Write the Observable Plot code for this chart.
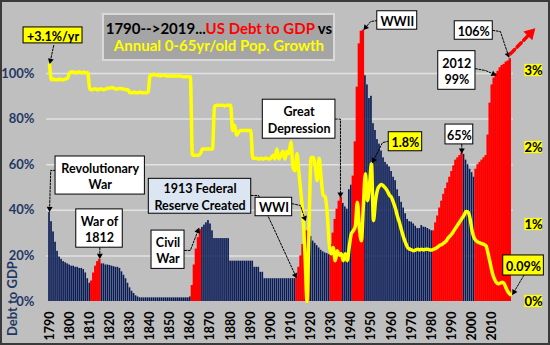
<!DOCTYPE html>
<html><head><meta charset="utf-8">
<script src="https://cdn.jsdelivr.net/npm/d3@7"></script>
<script src="https://cdn.jsdelivr.net/npm/@observablehq/plot@0.6"></script>
<style>
html,body{margin:0;padding:0;background:#bfbfbf;}
#chart svg{display:block;outline:2px solid #3a3a3a;outline-offset:-2px;}
</style></head><body><div id="chart"></div>
<script>
// ---- data ----
const years = d3.range(1790, 2020);
const debtToGdp = [
 39,35,30.5,26,22,19.5,18.5,17.5,17,16.5,
 16,15.5,15.5,15,15,14.5,14.5,14,12.5,10,
 8,9,12.5,15.5,17.5,18.5,16.5,16.5,16,16,
 15.8,15.5,15.3,15,15,14.5,13,11.5,10,8,
 6,4.5,3.5,2.5,2,1.6,1.6,1.6,1.6,1.6,
 1.6,1.6,1.6,1.6,1.6,1.6,1.6,1.6,1.6,1.6,
 1.6,1.6,1.6,1.6,1.6,1.6,1.6,1.6,1.6,1.6,
 2,7,16,23,28,31.5,32.5,33.5,34.5,35.5,
 34,31,27.6,27.6,27.6,27.6,27.6,27.6,27.6,27.6,
 17.7,17.7,17.7,17.7,17.7,17.7,17.7,17.7,17.7,17.7,
 17.7,17.7,15,15,15,12.8,12.8,10,10,10,
 10,10,10,10,10,10,10,10,10,10,
 10,10,10,11,15,20,25,29,31,30,
 28.5,26.5,25.5,24.5,23.5,22.5,21.8,21.3,21,20.5,
 25,30,36,40.5,44,45.7,43,41.5,40.5,49,
 51,55,70,94,113,118.5,119,99,95,89,
 90,78,75,71,69,66,63,61,60,59,
 57,54.5,53,49,46,43.5,41,38.5,36,35,
 34.8,34,33,32,32,33.3,32.6,32.5,32,31.5,
 31,31,34.5,37.5,41,44,47,49.5,52,54.5,
 57,59.5,62,63,64,65,64.5,62,60,58,
 56.5,54.5,58,60,61,62,63,64,73,87,
 95,98,100,101,102.5,103.5,104,105,105.5,106.5
];
const popGrowth = [
 3.08,2.88,2.89,2.88,2.88,2.89,2.88,2.88,2.89,2.9,
 2.97,2.98,2.98,2.97,2.98,2.98,2.97,2.98,2.97,2.97,
 2.76,2.75,2.76,2.76,2.75,2.76,2.76,2.75,2.76,2.77,
 2.77,2.78,2.77,2.76,2.76,2.77,2.76,2.76,2.75,2.75,
 2.71,2.71,2.72,2.71,2.71,2.72,2.71,2.71,2.71,2.72,
 2.94,2.94,2.95,2.94,2.94,2.93,2.94,2.94,2.93,2.93,
 2.93,2.93,2.93,2.93,2.93,2.93,2.92,2.92,2.92,2.92,
 2.92,1.9,1.9,1.9,1.9,1.92,1.98,1.98,1.98,1.98,
 1.98,1.98,2.53,2.55,2.55,2.55,2.55,2.54,2.55,2.55,
 2.55,2.22,2.29,2.16,2.2,2.22,2.22,2.22,2.22,2.22,
 2.22,1.86,1.86,1.86,1.85,1.86,1.85,1.86,1.86,1.85,
 1.86,1.9,1.85,1.98,1.85,1.9,1.95,1.85,1.95,1.92,
 2.07,1.74,1.7,1.92,1.66,1.4,1.1,0.6,0.0,1.0,
 1.87,1.87,1.77,1.57,1.86,1.6,1.38,1.36,1.15,0.75,
 0.62,0.7,0.53,0.66,0.6,0.62,0.53,0.62,0.53,0.72,
 0.88,0.92,0.98,1.29,0.95,0.79,1.25,1.66,1.31,1.5,
 1.79,1.05,1.3,1.45,1.5,1.52,1.5,1.47,1.43,1.38,
 1.35,1.28,1.2,1.1,1.02,0.92,0.83,0.76,0.7,0.68,
 0.67,0.66,0.67,0.68,0.67,0.68,0.67,0.68,0.68,0.67,
 0.67,0.68,0.69,0.71,0.73,0.74,0.76,0.78,0.82,0.85,
 0.88,0.92,0.96,1.0,1.04,1.08,1.12,1.17,1.16,1.08,
 0.92,0.83,0.79,0.77,0.76,0.75,0.74,0.72,0.62,0.5,
 0.38,0.3,0.25,0.23,0.24,0.25,0.23,0.17,0.12,0.09
];
const warSpans = [[1811,1815],[1861,1865],[1913,1919],[1930,1935],[1941,1946],[1981,1995],[2002,2019]];
const decadeTicks = d3.range(1790, 2011, 10);
const leftTicks = [0,20,40,60,80,100];
const rightTicks = [0,1,2,3];
const rightFactor = 33.77; // left-axis % per 1% of population growth
const titleLine1 = ["1790-->2019...", "US Debt to GDP", " vs"];
const titleLine2 = "Annual 0-65yr/old Pop. Growth";

// annotation boxes (data units: year, debt %)
const notes = [
 {lines:["+3.1%/yr"], x1:1777.1, x2:1806.4, y1:113.2, y2:120.2, fill:"#ffff00"},
 {lines:["Revolutionary","War"], x1:1793.0, x2:1837.4, y1:46.9, y2:63.6, fill:"#ffffff"},
 {lines:["War of","1812"], x1:1803.3, x2:1826.4, y1:23.6, y2:40.4, fill:"#ffffff"},
 {lines:["Civil","War"], x1:1840.7, x2:1857.1, y1:14.3, y2:31.1, fill:"#ffffff"},
 {lines:["1913 Federal","Reserve Created"], x1:1839.35, x2:1890.25, y1:38.5, y2:53.8, fill:"#dce6f2"},
 {lines:["WWI"], x1:1892.4, x2:1910.6, y1:37.4, y2:45.5, fill:"#ffffff"},
 {lines:["Great","Depression"], x1:1896.0, x2:1932.1, y1:71.4, y2:88.5, fill:"#ffffff"},
 {lines:["WWII"], x1:1952.9, x2:1972.75, y1:119.2, y2:127.3, fill:"#ffffff"},
 {lines:["106%"], x1:1991.4, x2:2010.3, y1:114.8, y2:122.9, fill:"#ffffff"},
 {lines:["2012","99%"], x1:1983.2, x2:2001.7, y1:92.85, y2:109.8, fill:"#ffffff"},
 {lines:["65%"], x1:1986.8, x2:2000.6, y1:68.9, y2:77.6, fill:"#ffffff"},
 {lines:["1.8%"], x1:1958.6, x2:1975.2, y1:65.9, y2:74.25, fill:"#ffff00"},
 {lines:["0.09%"], x1:2015.5, x2:2035.7, y1:11.4, y2:20.2, fill:"#ffff00"}
];
const pointers = [
 {id:"p31", pts:[[1792.1,112.3],[1790.2,104.6]]},
 {id:"rev", pts:[[1793,57.5],[1790.6,57.5],[1790,39.6]]},
 {id:"w1812", pts:[[1815,23.6],[1815,19.0]]},
 {id:"civil", pts:[[1857.1,22.4],[1860,22.4],[1864.2,32.0]]},
 {id:"fed", pts:[[1890.25,46.5],[1893.9,46.5],[1912.7,10.5]]},
 {id:"wwi", pts:[[1910.6,42.9],[1914.7,42.1],[1917.2,35.5]]},
 {id:"dep", pts:[[1932.1,80],[1934.6,80],[1934.6,45.9]]},
 {id:"wwii", pts:[[1952.9,123.2],[1949.6,122.8],[1946.3,119.3]]},
 {id:"p106", pts:[[2010.3,118.9],[2014.1,118.4],[2018.3,107.2]]},
 {id:"p99", pts:[[2001.7,102.1],[2006.7,101.3],[2011.8,99.3]]},
 {id:"p65", pts:[[1994.9,68.9],[1994.9,65.2]]},
 {id:"p18", pts:[[1958.6,70.3],[1955.5,69.7],[1950.5,61.0]]},
 {id:"p009", pts:[[2025.7,11.4],[2020.2,3.2]]}
];
const trendArrow = [[2019.1,108.6],[2030.7,119.2]];

// ---- layout ----
const W=550, H=345, mL=46, mR=37.2, mT=10, mB=44;
const xDomain=[1788.5, 2020.5], yDomain=[0, 127.63];
const xs = d3.scaleLinear(xDomain, [mL, W-mR]);
const ys = d3.scaleLinear(yDomain, [H-mB, mT]);

const isWar = y => warSpans.some(([a,b]) => y>=a && y<=b);
const bars = years.map((year,i) => ({year, debt: debtToGdp[i], war: isWar(year)}));
const pop = years.map((year,i) => ({year, g: popGrowth[i]}));

const pointerPts = pointers.flatMap(p => p.pts.map(([x,y]) => ({id:p.id, x, y})));
function headFor(pts, tip) {
  const [a,b] = pts.slice(-2);
  const ax=xs(a[0]), ay=ys(a[1]), bx=xs(b[0]), by=ys(b[1]);
  const dx=bx-ax, dy=by-ay, L=Math.hypot(dx,dy)||1;
  const ux=dx/L, uy=dy/L;
  return {x: xs.invert(bx-ux*tip), y: ys.invert(by-uy*tip), rot: Math.atan2(dx,-dy)*180/Math.PI};
}
const heads = pointers.map(p => headFor(p.pts, 2.6));
const redHead = headFor(trendArrow, 5);
const redShaft = (() => {
  const [a,b] = trendArrow; const ax=xs(a[0]), ay=ys(a[1]), bx=xs(b[0]), by=ys(b[1]);
  const L=Math.hypot(bx-ax,by-ay); const k=(L-8)/L;
  return [{x:a[0], y:a[1]}, {x: xs.invert(ax+(bx-ax)*k), y: ys.invert(ay+(by-ay)*k)}];
})();

const bold = {fontWeight:"bold"};
const plot = Plot.plot({
  width: W, height: H,
  marginLeft: mL, marginRight: mR, marginTop: mT, marginBottom: mB,
  x: {type:"linear", domain: xDomain},
  y: {domain: yDomain},
  style: {background:"#bfbfbf", fontFamily:"Lato, 'Open Sans', sans-serif", overflow:"visible"},
  marks: [
    Plot.ruleY([20,40,60,80,100], {stroke:"#e2e2e2", strokeWidth:1.5}),
    Plot.rectY(bars.filter(d=>!d.war), {x1: d=>d.year-0.5, x2: d=>d.year+0.5, y:"debt", fill:"#0a1c56", insetLeft:0.18, insetRight:0.18}),
    Plot.rectY(bars.filter(d=>d.war), {x1: d=>d.year-0.5, x2: d=>d.year+0.5, y:"debt", fill:"#ff0000", insetLeft:-0.2, insetRight:-0.2}),
    Plot.line(pop, {x:"year", y: d=>d.g*rightFactor, stroke:"#ffff00", strokeWidth:3.5, curve:"monotone-x"}),
    // title box
    Plot.rect([0], {x1:1816.8, x2:1931.65, y1:105.7, y2:125.9, fill:"#a5a5a5", stroke:"#dadada", strokeWidth:2}),
    Plot.text([titleLine1.join("")], {x:1874.2, y:119.6, text:d=>d, fontSize:15, ...bold, fill:"#000"}),
    Plot.text([titleLine2], {x:1874.2, y:112.0, text:d=>d, fontSize:15, ...bold, fill:"#ffff00"}),
    // pointers
    Plot.line(pointerPts, {x:"x", y:"y", z:"id", stroke:"#000", strokeWidth:1, strokeDasharray:"2,1.5"}),
    Plot.dot(heads, {x:"x", y:"y", rotate:"rot", symbol:"triangle", r:2.2, fill:"#000", stroke:null}),
    Plot.line(redShaft, {x:"x", y:"y", stroke:"#ff0000", strokeWidth:3.5, strokeDasharray:"6,3.5"}),
    Plot.dot([redHead], {x:"x", y:"y", rotate:"rot", symbol:"triangle", r:4.6, fill:"#ff0000", stroke:null}),
    // annotation boxes
    Plot.rect(notes, {x1:"x1", x2:"x2", y1:"y1", y2:"y2", fill:d=>d.fill, stroke:"#000", strokeWidth:1}),
    Plot.text(notes, {x:d=>(d.x1+d.x2)/2, y:d=>(d.y1+d.y2)/2, text:d=>d.lines.join("\n"), fontSize:12.5, lineHeight:1.3, ...bold, fill:"#000"}),
    // right axis (population growth)
    Plot.rect(rightTicks, {x1:2026.2, x2:2035.0, y1:d=>d*rightFactor-2.7, y2:d=>d*rightFactor+2.7, fill:"#ffff00"}),
    Plot.text(rightTicks, {x:2030.6, y:d=>d*rightFactor, text:d=>d+"%", fontSize:13, ...bold, fill:"#000"}),
    // left axis
    Plot.axisY(leftTicks, {tickFormat:d=>d+"%", tickSize:0, tickPadding:12, fontSize:13, ...bold, color:"#1f3864", label:null}),
    Plot.text(["Debt to GDP"], {x:1771.9, y:1.3, text:d=>d, rotate:-90, fontSize:13, ...bold, fill:"#1f3864"}),
    // bottom axis
    Plot.axisX(decadeTicks, {tickFormat:d=>String(d), tickRotate:-90, tickSize:0, tickPadding:10, fontSize:12.5, ...bold, color:"#000", label:null})
  ]
});

// colour the title's middle part red
plot.querySelectorAll("text").forEach(t => {
  if (t.textContent === titleLine1.join("")) {
    t.textContent = "";
    const cols = ["#000000", "#ff0000", "#000000"];
    titleLine1.forEach((s,i) => {
      const ts = document.createElementNS("http://www.w3.org/2000/svg","tspan");
      ts.setAttribute("fill", cols[i]);
      ts.textContent = s;
      t.appendChild(ts);
    });
  }
});
document.getElementById("chart").appendChild(plot);
</script></body></html>
